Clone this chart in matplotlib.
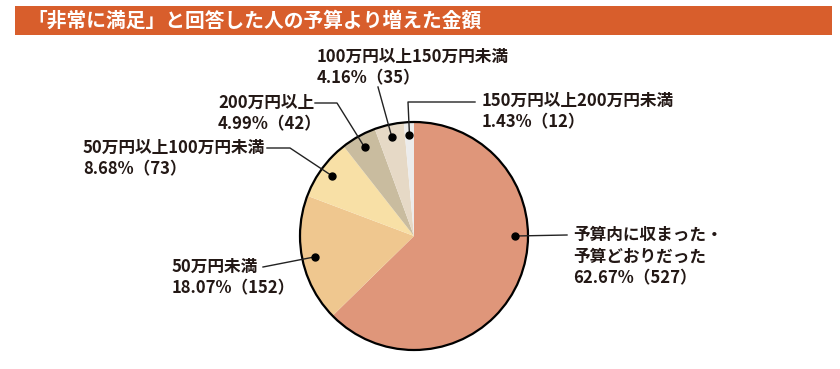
import numpy as np
import matplotlib.pyplot as plt
from matplotlib.patches import Rectangle, Circle

plt.rcParams['font.family'] = ['Noto Sans CJK JP', 'DejaVu Sans']

# data
title = "「非常に満足」と回答した人の予算より増えた金額"
names = ["予算内に収まった・\n予算どおりだった", "50万円未満", "50万円以上100万円未満",
         "200万円以上", "100万円以上150万円未満", "150万円以上200万円未満"]
pcts = [62.67, 18.07, 8.68, 4.99, 4.16, 1.43]
counts = [527, 152, 73, 42, 35, 12]
colors = ["#df967a", "#efc78f", "#f8e0a6", "#c9bc9f", "#e6d9c6", "#ececec"]

# layout in pixels (y measured from the top)
W, H = 840, 369
cx, cy, r = 414, 236, 114
text_pos = [(573, 235), (172, 267), (83, 148), (218, 103), (317, 57), (482, 101)]
leaders = [[(567, 235)], [(263, 267)], [(267, 148), (290, 148)],
           [(315, 103), (337, 103)], [(378, 87)], [(475, 102), (408, 102)]]
txt_color = "#231815"


def Y(y):
    return H - y


fig = plt.figure(figsize=(8.4, 3.69), dpi=100)
ax = fig.add_axes([0, 0, 1, 1])

ax.pie(counts, colors=colors, startangle=90, counterclock=False,
       center=(cx, Y(cy)), radius=r, wedgeprops=dict(linewidth=0))
ax.add_patch(Circle((cx, Y(cy)), r, fill=False, ec="black", lw=1.6, zorder=3))

# title bar
ax.add_patch(Rectangle((15, Y(35)), 817, 29, color="#d85e2c", lw=0, zorder=1))
ax.text(27, Y(20.5), title, color="white", fontsize=14.2, fontweight="bold",
        ha="left", va="center", zorder=2)

# dots at the slice middles
total = sum(counts)
cum = np.cumsum(counts)
theta = 2 * np.pi * (cum - np.array(counts) / 2) / total
theta[0] = np.pi / 2
rd = 0.89 * r
dx = cx + rd * np.sin(theta)
dy = Y(cy) + rd * np.cos(theta)

for i in range(len(counts)):
    pts = leaders[i]
    xs = [p[0] for p in pts] + [dx[i]]
    ys = [Y(p[1]) for p in pts] + [dy[i]]
    ax.plot(xs, ys, color="#222222", lw=1.0, zorder=4)
    ax.plot(dx[i], dy[i], "o", color="black", ms=5, zorder=5)

    lines = names[i].split("\n") + [f"{pcts[i]:.2f}%（{counts[i]}）"]
    tx, ty = text_pos[i]
    for j, line in enumerate(lines):
        ax.text(tx, Y(ty + 21.5 * j), line, fontsize=12, fontweight="bold",
                color=txt_color, ha="left", va="center")

ax.set_xlim(0, W)
ax.set_ylim(0, H)
ax.set_aspect("equal")
ax.axis("off")

fig.savefig("out.png", dpi=100)
